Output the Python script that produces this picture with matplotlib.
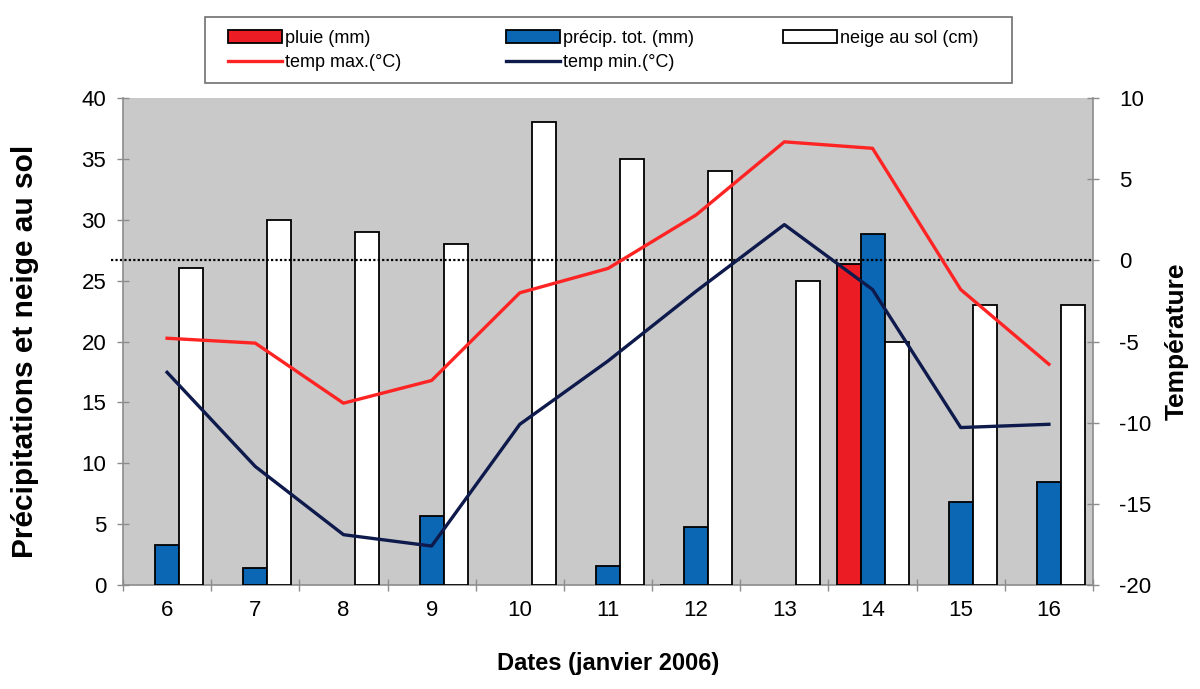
import numpy as np
import matplotlib
matplotlib.use("Agg")
import matplotlib.pyplot as plt
from matplotlib.patches import Rectangle

plt.rcParams["font.family"] = ["Liberation Sans", "DejaVu Sans"]
plt.rcParams["axes.unicode_minus"] = False

# data
days = [6, 7, 8, 9, 10, 11, 12, 13, 14, 15, 16]
pluie = [None, None, None, None, None, None, 0.0, None, 26.4, None, None]
precip_tot = [3.3, 1.4, None, 5.7, None, 1.6, 4.8, None, 28.8, 6.8, 8.5]
neige_sol = [26.0, 30.0, 29.0, 28.0, 38.0, 35.0, 34.0, 25.0, 20.0, 23.0, 23.0]
temp_max = [-4.8, -5.1, -8.8, -7.4, -2.0, -0.5, 2.8, 7.3, 6.9, -1.8, -6.4]
temp_min = [-6.9, -12.7, -16.9, -17.6, -10.1, -6.2, -1.9, 2.2, -1.8, -10.3, -10.1]

RED = "#EC1C24"
BLUE = "#0B67B4"
NAVY = "#0E1A4C"
LRED = "#FF2424"
GRAY_BG = "#C9C9C9"
AXIS_GRAY = "#8C8C8C"

W = 0.272
FS_TICK = 16
FS_LEG = 13

fig = plt.figure(figsize=(12, 6.89), dpi=100)
ax = fig.add_axes([123 / 1200, 1 - 585 / 689, 970 / 1200, 487 / 689])
ax.set_facecolor(GRAY_BG)

x = np.arange(len(days))


def present(vals):
    idx = [i for i, v in enumerate(vals) if v is not None]
    return np.array(idx), [vals[i] for i in idx]


xi, v = present(pluie)
b_pluie = ax.bar(xi - W, v, W, color=RED, edgecolor="black", lw=1.3,
                 label="pluie (mm)", zorder=3)
xi, v = present(precip_tot)
b_prec = ax.bar(xi, v, W, color=BLUE, edgecolor="black", lw=1.3,
                label="précip. tot. (mm)", zorder=3)
xi, v = present(neige_sol)
b_neige = ax.bar(xi + W, v, W, color="white", edgecolor="black", lw=1.3,
                 label="neige au sol (cm)", zorder=3)

ax.set_xlim(-0.5, len(days) - 0.5)
ax.set_ylim(0, 40)
ax.set_yticks(range(0, 41, 5))
ax.set_xticks(x)
ax.set_xticklabels([str(d) for d in days])
ax.set_xticks(np.arange(-0.5, len(days)), minor=True)
ax.tick_params(axis="x", which="major", length=0, pad=11, labelsize=FS_TICK)
ax.tick_params(axis="x", which="minor", direction="inout", length=8,
               color=AXIS_GRAY, width=1)
ax.tick_params(axis="y", direction="inout", length=8, color=AXIS_GRAY,
               width=1, pad=8, labelsize=FS_TICK)
for s in ["top", "right"]:
    ax.spines[s].set_visible(False)
for s in ["left", "bottom"]:
    ax.spines[s].set_color(AXIS_GRAY)
    ax.spines[s].set_linewidth(1.2)

ax.set_ylabel("Précipitations et neige au sol", fontsize=21.5,
              fontweight="bold")
ax.yaxis.set_label_coords(-0.087, 0.48)
ax.set_xlabel("Dates (janvier 2006)", fontsize=17, fontweight="bold",
              labelpad=22)

ax2 = ax.twinx()
ax2.set_ylim(-20, 10)
ax2.set_yticks(range(-20, 11, 5))
ax2.tick_params(axis="y", direction="inout", length=8, color=AXIS_GRAY,
                width=1, pad=15, labelsize=FS_TICK)
for s in ["top", "left", "bottom"]:
    ax2.spines[s].set_visible(False)
ax2.spines["right"].set_color(AXIS_GRAY)
ax2.spines["right"].set_linewidth(1.2)

ax2.axhline(0, xmin=-0.012, xmax=1, color="black", ls=(0, (1.0, 1.0)),
            lw=1.6, clip_on=False, zorder=4)
l_max, = ax2.plot(x, temp_max, color=LRED, lw=2.4, label="temp max.(°C)",
                  zorder=5)
l_min, = ax2.plot(x, temp_min, color=NAVY, lw=2.4, label="temp min.(°C)",
                  zorder=5)
ax2.set_ylabel("Température", fontsize=19, fontweight="bold")
ax2.yaxis.set_label_coords(1.074, 0.5)

# legend: three columns laid out like the original box
leg_kw = dict(frameon=False, fontsize=FS_LEG, handlelength=3.0,
              handleheight=0.7, handletextpad=0.15, labelspacing=0.38,
              borderaxespad=0, borderpad=0, loc="upper left")
cols = [([b_pluie, l_max], 228), ([b_prec, l_min], 506), ([b_neige], 783)]
for handles, x0 in cols:
    fig.legend(handles, [h.get_label() for h in handles],
               bbox_to_anchor=(x0 / 1200, 1 - 30 / 689), **leg_kw)
fig.patches.append(Rectangle((205 / 1200, 1 - 83 / 689), 807 / 1200,
                             66 / 689, transform=fig.transFigure,
                             fill=False, edgecolor="#707070", lw=1.2))

fig.savefig("out.png", dpi=100)
